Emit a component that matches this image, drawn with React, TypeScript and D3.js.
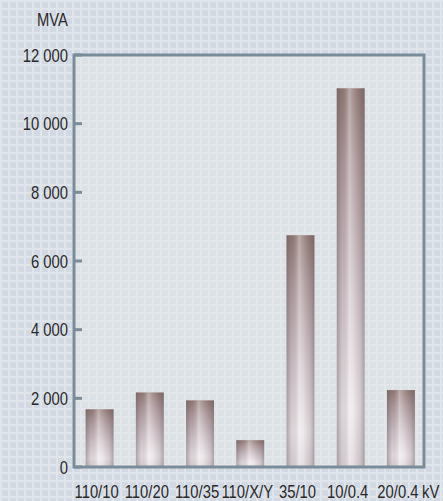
import * as d3 from "d3";

const categories = ["110/10", "110/20", "110/35", "110/X/Y", "35/10", "10/0.4", "20/0.4"];
const values = [1680, 2170, 1940, 780, 6750, 11030, 2240];
const yTicks = [0, 2000, 4000, 6000, 8000, 10000, 12000];
const yUnit = "MVA";
const xUnit = "kV";

const W = 443;
const H = 501;
const frame = { left: 74, top: 55, right: 424, bottom: 467 };
const FONT = "'Liberation Sans', Arial, sans-serif";
const SQUEEZE = 0.8;

const fmt = d3.formatLocale({ decimal: ",", thousands: " ", grouping: [3], currency: ["", ""] }).format(",d");

// narrow text: Liberation Sans squeezed horizontally
function Label({ x, y, anchor, children }: { x: number; y: number; anchor: string; children: string }) {
  return (
    <text
      transform={`translate(${x},${y}) scale(${SQUEEZE},1)`}
      textAnchor={anchor}
      fontFamily={FONT}
      fontSize={18.5}
      fill="#2a2a2a"
    >
      {children}
    </text>
  );
}

export default function App() {
  const x = d3.scaleBand<string>()
    .domain(categories)
    .range([74.5, 426])
    .paddingInner(0.445)
    .paddingOuter(0.2225);
  const y = d3.scaleLinear().domain([0, 12000]).range([frame.bottom, frame.top]);

  return (
    <svg
      width={W}
      height={H}
      style={{ position: "absolute", left: 0, top: 0, display: "block" }}
    >
      <defs>
        <pattern id="outerBg" width="8" height="8" patternUnits="userSpaceOnUse">
          <rect width="8" height="8" fill="#d3d9e2" />
          <rect x="0" y="0" width="8" height="2" fill="#e0e4eb" />
          <rect x="0" y="0" width="2" height="8" fill="#e0e4eb" />
        </pattern>
        <pattern id="innerBg" width="8" height="8" patternUnits="userSpaceOnUse">
          <rect width="8" height="8" fill="#dce1e5" />
          <rect x="0" y="0" width="8" height="2" fill="#e4e7ea" />
          <rect x="0" y="0" width="2" height="8" fill="#e4e7ea" />
        </pattern>
        <linearGradient id="barV" x1="0" y1="0" x2="0" y2="1">
          <stop offset="0%" stopColor="#8d746f" />
          <stop offset="20%" stopColor="#ab9598" />
          <stop offset="55%" stopColor="#d0c3c9" />
          <stop offset="85%" stopColor="#ebe4e8" />
          <stop offset="100%" stopColor="#ddd4d9" />
        </linearGradient>
        <linearGradient id="barH" x1="0" y1="0" x2="1" y2="0">
          <stop offset="0%" stopColor="#5e5458" stopOpacity="0.45" />
          <stop offset="20%" stopColor="#7a6e72" stopOpacity="0.12" />
          <stop offset="45%" stopColor="#ffffff" stopOpacity="0.4" />
          <stop offset="60%" stopColor="#ffffff" stopOpacity="0.2" />
          <stop offset="85%" stopColor="#6e6266" stopOpacity="0.18" />
          <stop offset="100%" stopColor="#5e5458" stopOpacity="0.45" />
        </linearGradient>
      </defs>

      <rect width={W} height={H} fill="url(#outerBg)" />
      <rect
        x={frame.left}
        y={frame.top}
        width={frame.right - frame.left}
        height={frame.bottom - frame.top}
        fill="url(#innerBg)"
      />

      {categories.map((c, i) => (
        <g key={c}>
          <rect
            x={x(c)}
            y={y(values[i])}
            width={x.bandwidth()}
            height={y(0) - y(values[i])}
            fill="url(#barV)"
          />
          <rect
            x={x(c)}
            y={y(values[i])}
            width={x.bandwidth()}
            height={y(0) - y(values[i])}
            fill="url(#barH)"
          />
        </g>
      ))}

      <rect
        x={frame.left}
        y={frame.top}
        width={frame.right - frame.left}
        height={frame.bottom - frame.top}
        fill="none"
        stroke="#7a8c9a"
        strokeWidth={3}
      />

      {yTicks.map((t) => (
        <g key={t}>
          <line
            x1={frame.left}
            x2={frame.left + 8}
            y1={y(t)}
            y2={y(t)}
            stroke="#7a8c9a"
            strokeWidth={3}
          />
          <Label x={68} y={y(t) + 6.6} anchor="end">{fmt(t)}</Label>
        </g>
      ))}

      <Label x={68} y={26} anchor="end">{yUnit}</Label>

      {categories.map((c) => (
        <Label key={c} x={(x(c) ?? 0) + x.bandwidth() / 2 - 3} y={498} anchor="middle">
          {c}
        </Label>
      ))}
      <Label x={422} y={498} anchor="start">{xUnit}</Label>
    </svg>
  );
}
